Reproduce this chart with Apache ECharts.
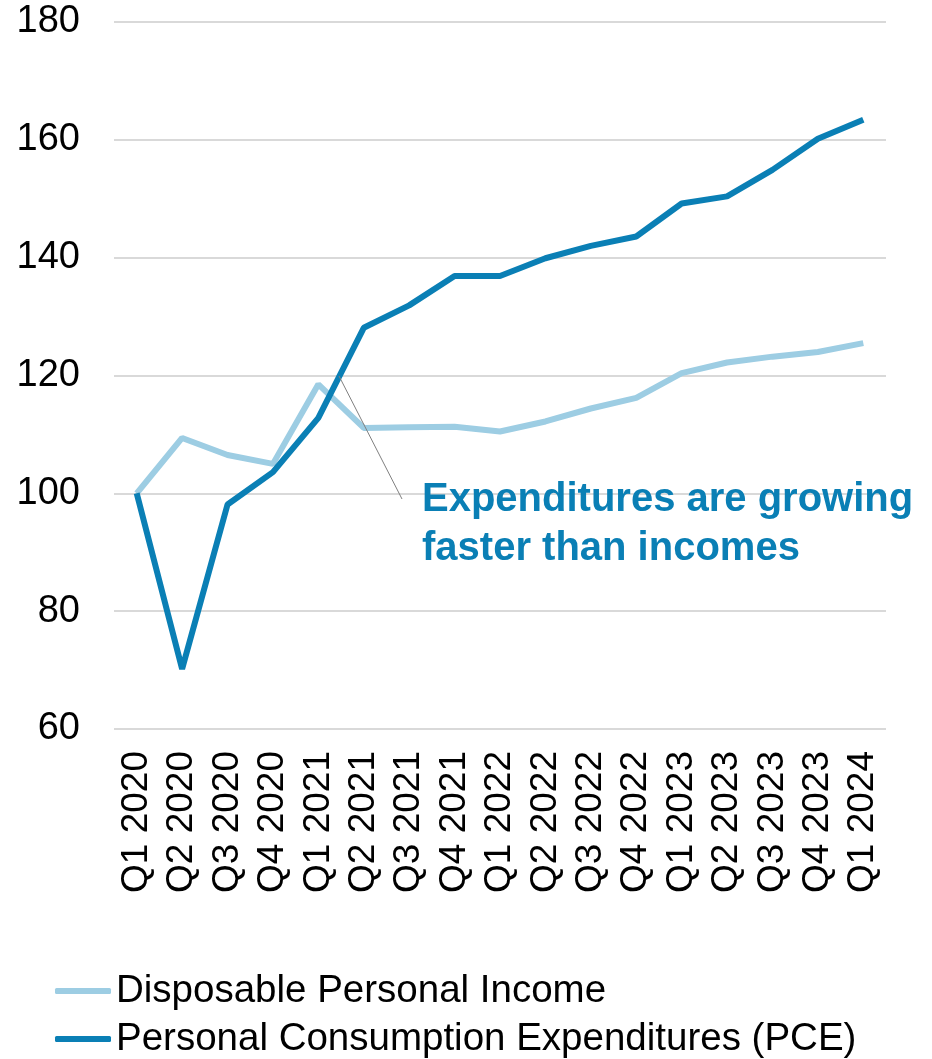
<!DOCTYPE html>
<html>
<head>
<meta charset="utf-8">
<script src="https://cdn.jsdelivr.net/npm/echarts@6/dist/echarts.min.js"></script>
<style>
html,body{margin:0;padding:0;background:#fff;}
#chart{width:932px;height:1059px;}
</style>
</head>
<body>
<div id="chart"></div>
<script>
const categories = ["Q1 2020","Q2 2020","Q3 2020","Q4 2020","Q1 2021","Q2 2021","Q3 2021","Q4 2021","Q1 2022","Q2 2022","Q3 2022","Q4 2022","Q1 2023","Q2 2023","Q3 2023","Q4 2023","Q1 2024"];
const dpiValues = [100,109.4,106.5,105.0,118.5,111.1,111.2,111.3,110.5,112.2,114.4,116.2,120.4,122.2,123.2,124.0,125.5];
const pceValues = [100,70.2,98.1,103.6,112.8,128.1,131.9,136.9,136.9,139.9,142.0,143.6,149.2,150.4,154.9,160.2,163.4];
const seriesNames = ["Disposable Personal Income","Personal Consumption Expenditures (PCE)"];
const annotationText = "Expenditures are growing\nfaster than incomes";

const FONT = "'Liberation Sans', Arial, sans-serif";
const LIGHT = "#9dcde3";
const DARK = "#0a7fb5";

const chart = echarts.init(document.getElementById('chart'));
chart.setOption({
  animation: false,
  backgroundColor: '#fff',
  grid: {left: 114, right: 46, top: 22, bottom: 330, containLabel: false},
  xAxis: {
    type: 'category',
    data: categories,
    boundaryGap: true,
    axisLine: {show: false},
    axisTick: {show: false},
    axisLabel: {rotate: 90, interval: 0, fontSize: 37, color: '#000', fontFamily: FONT, margin: 22}
  },
  yAxis: {
    type: 'value',
    min: 60, max: 180, interval: 20,
    axisLine: {show: false},
    axisTick: {show: false},
    axisLabel: {fontSize: 38, color: '#000', fontFamily: FONT, margin: 34},
    splitLine: {lineStyle: {color: '#d9d9d9', width: 2}}
  },
  legend: {
    orient: 'vertical',
    left: 55, top: 971,
    padding: 0,
    icon: 'roundRect',
    itemWidth: 56, itemHeight: 6,
    itemGap: 8,
    textStyle: {fontSize: 38.5, color: '#000', fontFamily: FONT, lineHeight: 40},
    data: seriesNames
  },
  series: [
    {name: seriesNames[0], type: 'line', data: dpiValues, symbol: 'none', color: LIGHT,
     lineStyle: {width: 6, color: LIGHT}},
    {name: seriesNames[1], type: 'line', data: pceValues, symbol: 'none', color: DARK,
     lineStyle: {width: 6, color: DARK}}
  ],
  graphic: [
    {type: 'line', shape: {x1: 339, y1: 376, x2: 402, y2: 499}, style: {stroke: '#808080', lineWidth: 1}, z: 100},
    {type: 'text', left: 422, top: 475, style: {text: annotationText, fill: DARK, font: "bold 40px " + FONT, lineHeight: 49}, z: 100}
  ]
});
</script>
</body>
</html>
